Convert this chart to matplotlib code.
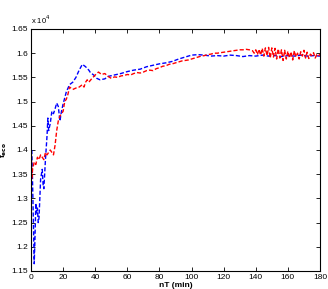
import matplotlib
matplotlib.use("Agg")
import matplotlib.pyplot as plt

red_t = [0, 0.5, 1, 2, 3, 4, 5, 6, 7, 8, 9, 10, 11, 12, 13, 14, 15, 16, 17, 18, 19, 20,
         21, 22, 23, 24, 26, 28, 30, 32, 33, 34, 35, 36, 38, 40, 42, 44, 46, 48, 50, 52,
         54, 56, 58, 60, 62, 64, 66, 68, 70, 72, 74, 76, 78, 80, 82, 84, 86, 88, 90, 92,
         94, 96, 98, 100, 102, 104, 106, 108, 110, 112, 114, 116, 118, 120, 122, 124,
         126, 128, 130, 132, 134, 136, 138,
         139, 140, 141, 142, 143, 144, 145, 146, 147, 148, 149, 150, 151, 152, 153, 154,
         155, 156, 157, 158, 159, 160, 161, 162, 163, 164, 165, 166, 167, 168, 169, 170,
         171, 172, 173, 174, 175, 176, 177, 178, 179, 180]
red_v = [1.43, 1.34, 1.36, 1.375, 1.37, 1.385, 1.38, 1.39, 1.385, 1.38, 1.395, 1.39, 1.395,
         1.40, 1.395, 1.39, 1.41, 1.44, 1.46, 1.47, 1.475, 1.48, 1.50, 1.505, 1.515, 1.53,
         1.525, 1.528, 1.53, 1.535, 1.53, 1.54, 1.545, 1.54, 1.548, 1.555, 1.561, 1.556,
         1.558, 1.552, 1.548, 1.551, 1.550, 1.553, 1.554, 1.556, 1.555, 1.558, 1.560, 1.559,
         1.561, 1.564, 1.565, 1.564, 1.568, 1.570, 1.573, 1.574, 1.577, 1.578, 1.580, 1.582,
         1.584, 1.585, 1.586, 1.588, 1.590, 1.592, 1.594, 1.595, 1.597, 1.598, 1.600, 1.600,
         1.601, 1.602, 1.603, 1.604, 1.605, 1.606, 1.607, 1.607, 1.608, 1.607, 1.605,
         1.600, 1.607, 1.597, 1.608, 1.596, 1.610, 1.594, 1.611, 1.595, 1.612, 1.590, 1.611,
         1.592, 1.610, 1.588, 1.609, 1.590, 1.607, 1.585, 1.606, 1.588, 1.604, 1.590, 1.603,
         1.586, 1.605, 1.592, 1.600, 1.588, 1.603, 1.594, 1.606, 1.590, 1.602, 1.589, 1.598,
         1.595, 1.601, 1.590, 1.597, 1.594, 1.598]

blue_t = [0.5, 1, 1.5, 2, 2.5, 3, 3.5, 4, 4.5, 5, 5.5, 6, 7, 7.5, 8, 8.5, 9, 10, 10.5, 11,
          12, 13, 14, 15, 16, 17, 18, 19, 20, 22, 24, 26, 28, 30, 32, 34, 36, 37, 39, 41,
          43, 46, 48, 52, 56, 60, 64, 68, 72, 76, 80, 84, 88, 92, 96, 100, 104, 108, 112,
          116, 120, 124, 128, 132, 136, 140, 144, 148, 152, 156, 160, 164, 168, 172, 176, 180]
blue_v = [1.40, 1.33, 1.25, 1.165, 1.22, 1.29, 1.27, 1.28, 1.25, 1.26, 1.30, 1.34, 1.36,
          1.33, 1.32, 1.35, 1.38, 1.43, 1.466, 1.44, 1.455, 1.48, 1.475, 1.485, 1.497, 1.49,
          1.46, 1.48, 1.495, 1.52, 1.535, 1.54, 1.55, 1.565, 1.577, 1.572, 1.565, 1.56,
          1.555, 1.548, 1.545, 1.547, 1.552, 1.555, 1.558, 1.562, 1.565, 1.567, 1.572,
          1.575, 1.578, 1.580, 1.583, 1.588, 1.592, 1.596, 1.597, 1.596, 1.594, 1.595,
          1.594, 1.596, 1.595, 1.593, 1.595, 1.594, 1.596, 1.594, 1.595, 1.593, 1.595,
          1.594, 1.596, 1.594, 1.595, 1.594]

x_ticks = [0, 20, 40, 60, 80, 100, 120, 140, 160, 180]
y_ticks = [1.15, 1.2, 1.25, 1.3, 1.35, 1.4, 1.45, 1.5, 1.55, 1.6, 1.65]
y_labels = ["1.15", "1.2", "1.25", "1.3", "1.35", "1.4", "1.45", "1.5", "1.55", "1.6", "1.65"]

plt.rcParams['font.family'] = ['Liberation Sans', 'DejaVu Sans']
fig = plt.figure(figsize=(3.28, 2.89), dpi=100)
ax = fig.add_axes([0.0945, 0.0623, 0.8811, 0.8374])
ax.plot(blue_t, blue_v, 'b--', lw=1.0, dashes=(3, 1.5))
ax.plot(red_t, red_v, 'r--', lw=1.0, dashes=(3, 1.5))
ax.set_xlim(0, 180)
ax.set_ylim(1.15, 1.65)
ax.set_xticks(x_ticks)
ax.set_yticks(y_ticks)
ax.set_yticklabels(y_labels)
ax.tick_params(direction='in', length=3, width=0.6, labelsize=6, top=True, right=True,
               pad=2, colors='black')
for s in ax.spines.values():
    s.set_linewidth(0.8)
ax.text(0.0, 1.012, "x 10$^4$", transform=ax.transAxes, fontsize=5.5, ha='left', va='bottom')
ax.set_ylabel("f$_{\\mathbf{eco}}$", fontsize=6, fontweight='bold')
ax.yaxis.set_label_coords(-0.075, 0.5)
ax.set_xlabel("nT (min)", fontsize=6, fontweight='bold', labelpad=1)
fig.savefig("out.png", dpi=100)
